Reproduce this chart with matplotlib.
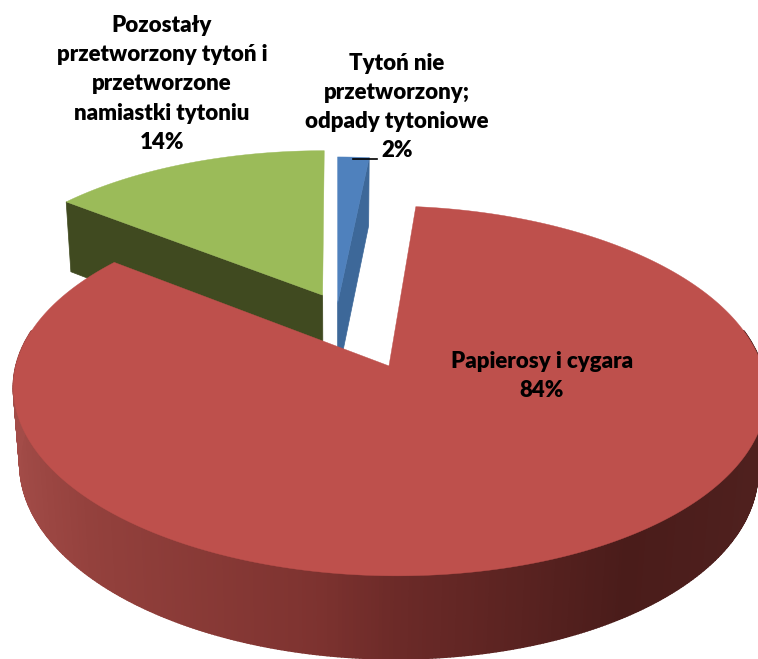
import numpy as np
import matplotlib
matplotlib.use("Agg")
import matplotlib.pyplot as plt
from matplotlib.collections import PolyCollection
from matplotlib.colors import LinearSegmentedColormap

plt.rcParams['font.family'] = ['Lato', 'DejaVu Sans']

# Dane (kolejnosc zgodnie z ruchem wskazowek zegara, od godziny 12)
nazwy = ['Tytoń nie\nprzetworzony;\nodpady tytoniowe',
         'Papierosy i cygara',
         'Pozostały\nprzetworzony tytoń i\nprzetworzone\nnamiastki tytoniu']
wartosci = [1.6, 84.0, 14.4]
wysuniecie = [0.035, 0.356, 0.093]

kolor_gora = ['#4F81BD', '#BE504C', '#9BBB59']
kolor_bok = ['#3D6899', None, '#404A20']
cien_czerwony = LinearSegmentedColormap.from_list(
    'cien', [(0.0, '#A34C48'), (0.125, '#94413D'), (0.4, '#7E3330'),
             (0.5, '#6C2A28'), (0.775, '#4A1C1A'), (1.0, '#50211F')])

# Parametry rzutu perspektywicznego (jednostka = promien kola)
X0, Y0 = 337.0, 366.0
SKALA_X, SKALA_Y = 373.0, 181.6
PERSP = 0.135
GLEB_Y, GLEB_W = 77.7, 0.02
SRODEK_Y = 0.328


def rzut(x, y, h=0.0):
    """h=0 gorna powierzchnia, h=1 dolna krawedz."""
    w = 1 + PERSP * y + GLEB_W * h
    return X0 + SKALA_X * x / w, Y0 - (SKALA_Y * y - GLEB_Y * h) / w


def wycinek(start, koniec, wys):
    """Zwraca polozenie wierzcholka i luk wycinka (katy w stopniach)."""
    polowa = np.radians((start + koniec) / 2)
    cx = wys * np.sin(polowa)
    cy = SRODEK_Y + wys * np.cos(polowa)
    kat = np.radians(np.linspace(start, koniec, int(koniec - start) * 2 + 8))
    return cx, cy, kat


def rysuj_wycinek(ax, start, koniec, wys, gora, bok):
    cx, cy, kat = wycinek(start, koniec, wys)
    lx, ly = cx + np.sin(kat), cy + np.cos(kat)

    if bok is None:
        # sciana zewnetrzna z cieniowaniem
        paski = []
        kolory = []
        for i in range(len(kat) - 1):
            if np.cos((kat[i] + kat[i + 1]) / 2) > 0.2:
                continue
            a = rzut(lx[i], ly[i])
            b = rzut(lx[i + 1], ly[i + 1])
            c = rzut(lx[i + 1], ly[i + 1], 1)
            d = rzut(lx[i], ly[i], 1)
            paski.append([a, b, c, d])
            kolory.append(cien_czerwony((1 + np.sin((kat[i] + kat[i + 1]) / 2)) / 2))
        ax.add_collection(PolyCollection(paski, facecolors=kolory, edgecolors=kolory, linewidths=1.2))
    else:
        # sciana boczna przekroju, widoczna od strony patrzacego
        if start < 90:
            ex, ey = lx[-1], ly[-1]
        else:
            ex, ey = lx[0], ly[0]
        naroza = [rzut(cx, cy), rzut(ex, ey), rzut(ex, ey, 1), rzut(cx, cy, 1)]
        ax.fill(*zip(*naroza), color=bok, lw=0.5)

    px, py = rzut(np.r_[cx, lx], np.r_[cy, ly])
    ax.fill(px, py, color=gora, lw=0.3)


fig = plt.figure(figsize=(7.58, 6.59), dpi=100)
ax = fig.add_axes([0, 0, 1, 1])
ax.set_xlim(0, 758)
ax.set_ylim(659, 0)
ax.axis('off')

granice = np.r_[0, np.cumsum(wartosci)] * 3.6
for i in [2, 0, 1]:
    rysuj_wycinek(ax, granice[i], granice[i + 1], wysuniecie[i], kolor_gora[i], kolor_bok[i])

# Etykiety
styl = dict(ha='center', va='center', fontweight='heavy', fontsize=16.0, color='black', linespacing=1.48)
ax.text(162, 84, f"{nazwy[2]}\n{wartosci[2]:.0f}%", **styl)
ax.text(397, 107, f"{nazwy[0]}\n{wartosci[0]:.0f}%", **styl)
ax.text(542, 376, f"{nazwy[1]}\n{wartosci[1]:.0f}%", **styl)
ax.plot([353, 377], [159, 159], color='black', lw=1.2)

fig.savefig('out.png', dpi=100)
